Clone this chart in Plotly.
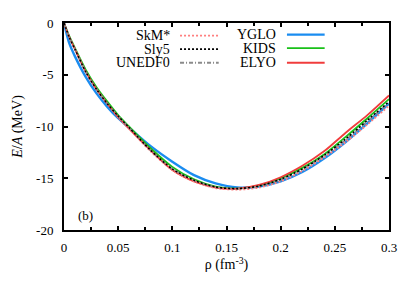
import plotly.graph_objects as go

rho = [0.0, 0.005, 0.01, 0.02, 0.03, 0.04, 0.05, 0.06, 0.08, 0.10, 0.12, 0.14,
       0.16, 0.18, 0.20, 0.22, 0.24, 0.26, 0.28, 0.30]

yglo = [0.0, -2.0, -3.2, -5.2, -6.8, -8.1, -9.2, -10.1, -11.9, -13.4, -14.7, -15.5,
        -15.9, -15.8, -15.3, -14.4, -13.1, -11.5, -9.7, -7.8]
kids = [0.0, -1.3, -2.4, -4.5, -6.2, -7.6, -8.9, -10.0, -12.1, -13.9, -15.1, -15.8,
        -16.0, -15.7, -15.0, -14.0, -12.7, -11.0, -9.2, -7.35]
elyo = [0.0, -1.4, -2.5, -4.7, -6.4, -7.8, -9.1, -10.2, -12.3, -14.2, -15.3, -15.9,
        -16.0, -15.65, -14.9, -13.8, -12.4, -10.6, -8.9, -7.0]
skms = [0.0, -1.4, -2.5, -4.7, -6.4, -7.8, -9.1, -10.2, -12.4, -14.2, -15.3, -15.95,
        -16.1, -15.9, -15.3, -14.3, -13.0, -11.5, -9.8, -8.0]
sly5 = [0.0, -1.4, -2.5, -4.7, -6.4, -7.8, -9.0, -10.1, -12.3, -14.1, -15.2, -15.85,
        -16.0, -15.75, -15.1, -14.1, -12.8, -11.2, -9.4, -7.6]
unedf0 = [0.0, -1.4, -2.5, -4.7, -6.4, -7.8, -9.0, -10.1, -12.3, -14.1, -15.2, -15.85,
          -16.0, -15.8, -15.15, -14.15, -12.85, -11.3, -9.5, -7.7]

x_ticks = [0, 0.05, 0.1, 0.15, 0.2, 0.25, 0.3]
x_tick_text = ["0", "0.05", "0.1", "0.15", "0.2", "0.25", "0.3"]
y_ticks = [0, -5, -10, -15, -20]
y_tick_text = ["0", "-5", "-10", "-15", "-20"]

FONT = "Liberation Serif"

series = [
    ("YGLO", yglo, dict(color="#1a8cf0", width=2.4, dash="solid")),
    ("KIDS", kids, dict(color="#18c018", width=1.8, dash="solid")),
    ("ELYO", elyo, dict(color="#f03c3c", width=1.8, dash="solid")),
    ("UNEDF0", unedf0, dict(color="#8a8a8a", width=1.8, dash="4px,2px,1px,2px")),
    ("SkM*", skms, dict(color="#ff7f7f", width=1.8, dash="2px,2px")),
    ("Sly5", sly5, dict(color="#000000", width=1.6, dash="2px,2px")),
]

fig = go.Figure()
for name, vals, ln in series:
    fig.add_trace(go.Scatter(x=rho, y=vals, mode="lines", name=name,
                             line=dict(shape="spline", smoothing=0.8, **ln),
                             showlegend=False))

# manual gnuplot-style legend (text left of sample)
legend_left = [("SkM*", 0.939, series[4][2]), ("Sly5", 0.874, series[5][2]),
               ("UNEDF0", 0.808, series[3][2])]
legend_right = [("YGLO", 0.944, series[0][2]), ("KIDS", 0.879, series[1][2]),
                ("ELYO", 0.808, series[2][2])]
shapes = []
annotations = []
for items, tx, l0, l1 in [(legend_left, 0.332, 0.357, 0.476),
                          (legend_right, 0.659, 0.686, 0.802)]:
    for name, yy, ln in items:
        annotations.append(dict(x=tx, y=yy, xref="paper", yref="paper", text=name,
                                showarrow=False, xanchor="right", yanchor="middle",
                                font=dict(family=FONT, size=14, color="black")))
        shapes.append(dict(type="line", xref="paper", yref="paper", x0=l0, x1=l1,
                           y0=yy, y1=yy, line=dict(color=ln["color"], width=ln["width"],
                                                  dash=ln["dash"])))

annotations.append(dict(x=0.011, y=-18.6, xref="x", yref="y", text="(b)", showarrow=False,
                        xanchor="left", yanchor="middle",
                        font=dict(family=FONT, size=13, color="black")))

axis_common = dict(showgrid=False, zeroline=False, showline=True, linecolor="black",
                   linewidth=2, mirror="ticks", ticks="inside", ticklen=4,
                   tickcolor="black", tickwidth=1.5,
                   tickfont=dict(family=FONT, size=13, color="black"))

fig.update_layout(
    width=407, height=283,
    margin=dict(l=53, r=26, t=8, b=61),
    font=dict(family=FONT, size=13, color="black"),
    paper_bgcolor="white", plot_bgcolor="white",
    shapes=shapes, annotations=annotations,
    xaxis=dict(range=[0, 0.3], tickvals=x_ticks, ticktext=x_tick_text,
               minor=dict(dtick=0.025, ticks="inside", ticklen=3, tickcolor="black"),
               title=dict(text="ρ (fm<sup>-3</sup>)", font=dict(family=FONT, size=14, color="black"),
                          standoff=6),
               ticklabelstandoff=4, **axis_common),
    yaxis=dict(range=[-20, 0], tickvals=y_ticks, ticktext=y_tick_text,
               title=dict(text="<i>E</i>/<i>A</i> (MeV)", font=dict(family=FONT, size=14, color="black"),
                          standoff=10),
               ticklabelstandoff=6, **axis_common),
)

fig.write_html("out.html")
